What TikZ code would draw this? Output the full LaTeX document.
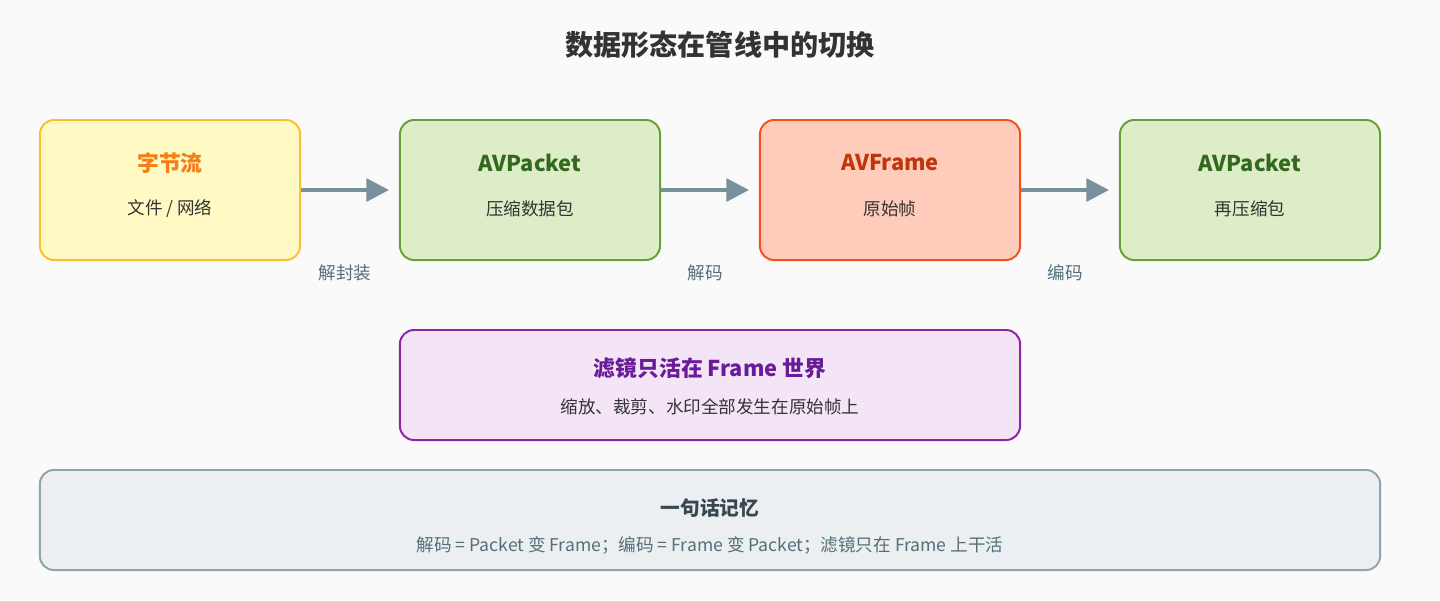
\documentclass[tikz,border=0pt]{standalone}
\usepackage{fontspec}
\setmainfont{Noto Sans CJK SC}
\usetikzlibrary{arrows.meta,positioning}
\definecolor{bgc}{HTML}{FAFAFA}
\definecolor{ylwF}{HTML}{FFF9C4}\definecolor{ylwD}{HTML}{FBC02D}\definecolor{ylwT}{HTML}{F57F17}
\definecolor{grnF}{HTML}{DCEDC8}\definecolor{grnD}{HTML}{689F38}\definecolor{grnT}{HTML}{33691E}
\definecolor{redF}{HTML}{FFCCBC}\definecolor{redD}{HTML}{F4511E}\definecolor{redT}{HTML}{BF360C}
\definecolor{purF}{HTML}{F3E5F5}\definecolor{purD}{HTML}{8E24AA}\definecolor{purT}{HTML}{6A1B9A}
\definecolor{gryF}{HTML}{ECEFF1}\definecolor{gryD}{HTML}{90A4AE}\definecolor{gryT}{HTML}{37474F}
\definecolor{gryS}{HTML}{546E7A}\definecolor{arw}{HTML}{78909C}
\tikzset{
 box/.style={draw,line width=1.4pt,rounded corners=10pt,minimum width=6.5cm,minimum height=3.5cm,inner sep=0pt},
 ttl/.style={font=\fontsize{15.5}{18}\selectfont\bfseries},
 sub/.style={font=\fontsize{12.5}{15}\selectfont,text=black!80},
 lbl/.style={font=\fontsize{12.5}{15}\selectfont,text=gryS},
 flow/.style={draw=arw,line width=3pt,-{Triangle[length=16pt,width=16pt]},shorten >=10*0.025cm}
}
\begin{document}
\begin{tikzpicture}[x=0.025cm,y=-0.025cm]
 \fill[bgc] (0,0) rectangle (1440,600);
 \node[font=\fontsize{20}{24}\selectfont\bfseries,text=black!80] (title) at (720,45) {数据形态在管线中的切换};
 % stages
 \node[box,fill=ylwF,draw=ylwD] (bytes) at (170,190) {};
 \node[box,fill=grnF,draw=grnD] (pkt) at (530,190) {};
 \node[box,fill=redF,draw=redD] (frm) at (890,190) {};
 \node[box,fill=grnF,draw=grnD] (repkt) at (1250,190) {};
 \node[ttl,text=ylwT] (bytesT) at (170,163) {字节流};
 \node[sub] (bytesS) at (170,209) {文件 / 网络};
 \node[ttl,text=grnT] (pktT) at (530,163) {AVPacket};
 \node[sub] (pktS) at (530,209) {压缩数据包};
 \node[ttl,text=redT] (frmT) at (890,163) {AVFrame};
 \node[sub] (frmS) at (890,209) {原始帧};
 \node[ttl,text=grnT] (repktT) at (1250,163) {AVPacket};
 \node[sub] (repktS) at (1250,209) {再压缩包};
 \draw[flow] (bytes) -- (pkt);
 \draw[flow] (pkt) -- (frm);
 \draw[flow] (frm) -- (repkt);
 \node[lbl] (demux) at (345,273) {解封装};
 \node[lbl] (dec) at (705,273) {解码};
 \node[lbl] (enc) at (1065,273) {编码};
 % filter
 \node[box,fill=purF,draw=purD,minimum width=15.5cm,minimum height=2.75cm] (filt) at (710,385) {};
 \node[ttl,text=purT] (filtT) at (710,368) {滤镜只活在 Frame 世界};
 \node[sub] (filtS) at (710,407) {缩放、裁剪、水印全部发生在原始帧上};
 % summary
 \node[box,fill=gryF,draw=gryD,minimum width=33.5cm,minimum height=2.5cm] (memo) at (710,520) {};
 \node[font=\fontsize{14}{17}\selectfont\bfseries,text=gryT] (memoT) at (710,508) {一句话记忆};
 \node[lbl] (memoS) at (710,545) {解码 = Packet 变 Frame；编码 = Frame 变 Packet；滤镜只在 Frame 上干活};
\end{tikzpicture}
\end{document}
